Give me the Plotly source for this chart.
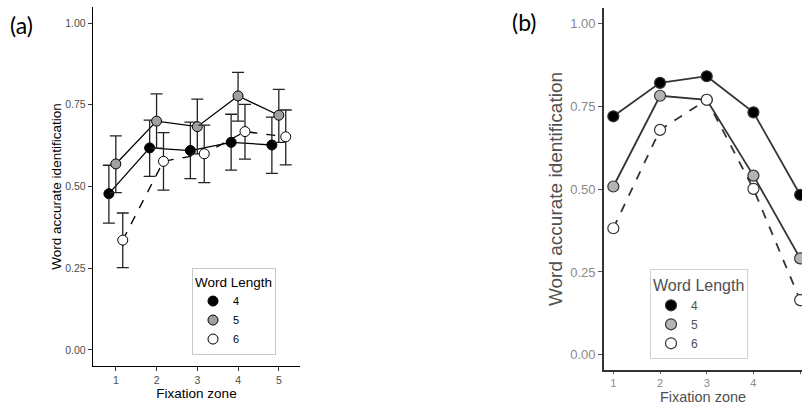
import plotly.graph_objects as go

# ---------------- data ----------------
zones = [1, 2, 3, 4, 5]
word_lengths = ["4", "5", "6"]

# panel (a): means and 95% CI bounds
a_mean_4 = [0.478, 0.618, 0.610, 0.635, 0.627]
a_mean_5 = [0.569, 0.700, 0.683, 0.777, 0.718]
a_mean_6 = [0.336, 0.577, 0.600, 0.668, 0.652]
a_hi_4 = [0.565, 0.703, 0.697, 0.721, 0.712]
a_lo_4 = [0.388, 0.531, 0.524, 0.550, 0.540]
a_hi_5 = [0.655, 0.783, 0.767, 0.849, 0.797]
a_lo_5 = [0.481, 0.617, 0.600, 0.700, 0.635]
a_hi_6 = [0.419, 0.665, 0.688, 0.751, 0.734]
a_lo_6 = [0.252, 0.489, 0.512, 0.584, 0.566]

# panel (b): proportions
b_val_4 = [0.720, 0.821, 0.841, 0.732, 0.483]
b_val_5 = [0.508, 0.782, 0.770, 0.541, 0.291]
b_val_6 = [0.382, 0.679, 0.770, 0.501, 0.165]

y_ticks = [0.0, 0.25, 0.5, 0.75, 1.0]
dodge = [-0.17, 0.0, 0.17]

fills_a = ["#000000", "#A0A0A0", "#FFFFFF"]
fills_b = ["#000000", "#B4B4B4", "#FFFFFF"]
dashes = ["solid", "solid", "dash"]

W, H = 802, 405


def px(x):
    return x / W


def py(y):
    return (H - y) / H


fig = go.Figure()

a_means = [a_mean_4, a_mean_5, a_mean_6]
a_his = [a_hi_4, a_hi_5, a_hi_6]
a_los = [a_lo_4, a_lo_5, a_lo_6]

for i in range(3):
    xs = [z + dodge[i] for z in zones]
    fig.add_trace(go.Scatter(x=xs, y=a_means[i], mode="lines",
                             line=dict(color="#000000", width=1.3, dash=dashes[i]),
                             showlegend=False, hoverinfo="skip",
                             xaxis="x", yaxis="y"))
for i in range(3):
    xs = [z + dodge[i] for z in zones]
    plus = [h - m for h, m in zip(a_his[i], a_means[i])]
    minus = [m - l for m, l in zip(a_means[i], a_los[i])]
    fig.add_trace(go.Scatter(x=xs, y=a_means[i], mode="markers",
                             name=word_lengths[i],
                             marker=dict(size=10, color=fills_a[i],
                                         line=dict(color="#000000", width=1)),
                             error_y=dict(type="data", symmetric=False,
                                          array=plus, arrayminus=minus,
                                          color="#222222", thickness=1.3, width=6),
                             legend="legend", xaxis="x", yaxis="y"))

b_vals = [b_val_4, b_val_5, b_val_6]
for i in range(3):
    fig.add_trace(go.Scatter(x=zones, y=b_vals[i], mode="lines",
                             line=dict(color="#333333", width=1.8, dash=dashes[i]),
                             showlegend=False, hoverinfo="skip",
                             xaxis="x2", yaxis="y2"))
for i in range(3):
    fig.add_trace(go.Scatter(x=zones, y=b_vals[i], mode="markers",
                             name=word_lengths[i],
                             marker=dict(size=11, color=fills_b[i],
                                         line=dict(color="#333333", width=1.2)),
                             legend="legend2", xaxis="x2", yaxis="y2"))

font_family = "Liberation Sans, Arial, sans-serif"
axis_common = dict(showgrid=False, zeroline=False, ticks="outside",
                   showline=True, mirror=False)

fig.update_layout(
    width=W, height=H,
    margin=dict(l=0, r=0, t=0, b=0),
    paper_bgcolor="white", plot_bgcolor="white",
    font=dict(family=font_family, color="#000000"),
    showlegend=True,
    hovermode=False,
    xaxis=dict(**axis_common, domain=[px(93), px(300)], range=[0.44, 5.52],
               tickvals=zones, ticktext=[str(z) for z in zones],
               linecolor="#000000", linewidth=1.3, tickcolor="#333333", ticklen=4,
               tickfont=dict(size=10.5, color="#4D4D4D"),
               title=dict(text="Fixation zone", font=dict(size=13.5, color="#000000"),
                          standoff=2),
               anchor="y"),
    yaxis=dict(**axis_common, domain=[py(366), py(7)], range=[-0.049, 1.049],
               tickvals=y_ticks, tickformat=".2f",
               linecolor="#000000", linewidth=1.3, tickcolor="#333333", ticklen=4,
               tickfont=dict(size=10.5, color="#4D4D4D"),
               title=dict(text="Word accurate identification",
                          font=dict(size=13.5, color="#000000"), standoff=0),
               anchor="x"),
    xaxis2=dict(**axis_common, domain=[px(604), 1.0], range=[0.8, 5.04],
                tickvals=zones, ticktext=[str(z) for z in zones],
                linecolor="#333333", linewidth=1.8, tickcolor="#555555", ticklen=2,
                tickfont=dict(size=11, color="#8A8A8A"),
                title=dict(text="Fixation zone", font=dict(size=14.5, color="#505050"),
                           standoff=3),
                anchor="y2"),
    yaxis2=dict(**axis_common, domain=[py(370), py(8)], range=[-0.046, 1.047],
                tickvals=y_ticks, tickformat=".2f",
                linecolor="#333333", linewidth=1.8, tickcolor="#555555", ticklen=4,
                tickfont=dict(size=13, color="#8A8A8A"),
                title=dict(text="Word accurate identification",
                           font=dict(size=19, color="#505050"), standoff=3),
                anchor="x2"),
    legend=dict(x=px(192), y=py(268), xanchor="left", yanchor="top",
                bgcolor="white", bordercolor="#C8C8C8", borderwidth=1,
                title=dict(text="Word Length", font=dict(size=13.5, color="#000000")),
                font=dict(size=11, color="#000000"), itemwidth=30,
                tracegroupgap=0),
    legend2=dict(x=px(650), y=py(269), xanchor="left", yanchor="top",
                 bgcolor="white", bordercolor="#D0D0D0", borderwidth=1,
                 title=dict(text="Word Length", font=dict(size=16, color="#505050")),
                 font=dict(size=12, color="#505050"), itemwidth=30,
                 tracegroupgap=0),
    annotations=[
        dict(text="(a)", x=px(8), y=py(25), xref="paper", yref="paper",
             xanchor="left", yanchor="middle", showarrow=False,
             font=dict(size=23, family="Lato, Open Sans, sans-serif", color="#000000")),
        dict(text="(b)", x=px(510), y=py(22), xref="paper", yref="paper",
             xanchor="left", yanchor="middle", showarrow=False,
             font=dict(size=23, family="Lato, Open Sans, sans-serif", color="#000000")),
    ],
)

fig.write_html(
    "out.html",
    config={"displayModeBar": False, "staticPlot": True},
    post_script="document.body.style.margin='0';"
                "document.documentElement.style.overflow='hidden';",
)
